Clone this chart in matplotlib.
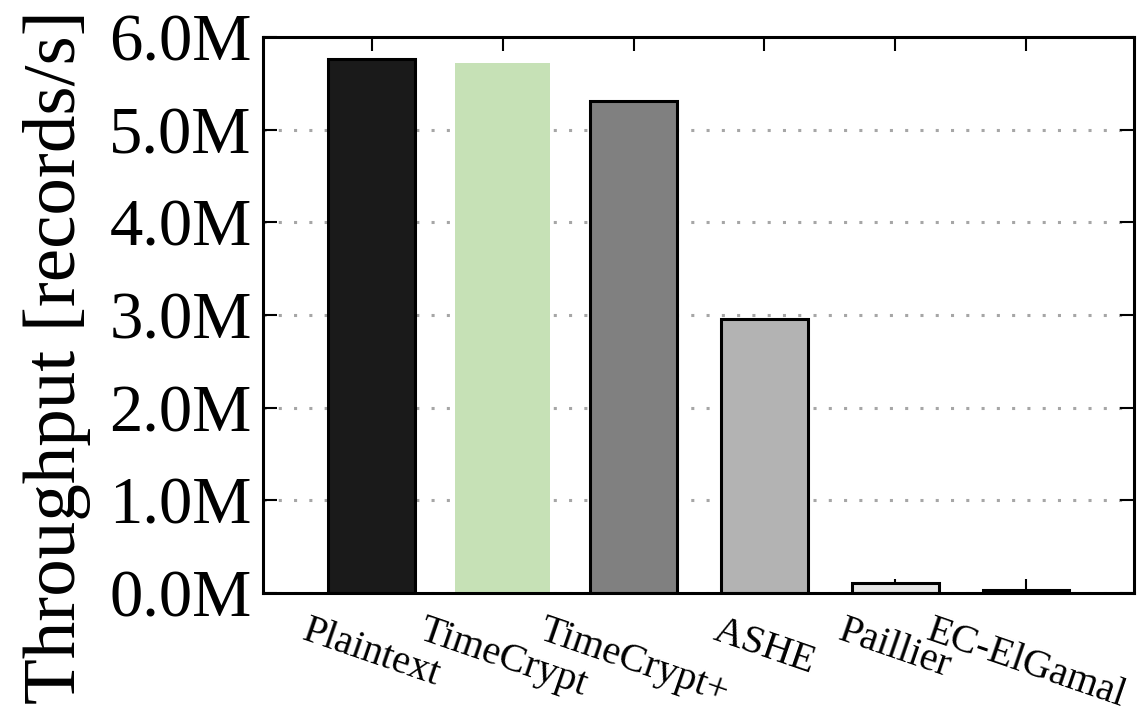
import matplotlib
matplotlib.use("Agg")
import matplotlib.pyplot as plt
from matplotlib.ticker import FuncFormatter

# Throughput per scheme, in millions of records per second
schemes = ["Plaintext", "TimeCrypt", "TimeCrypt+", "ASHE", "Paillier", "EC-ElGamal"]
throughput_m = [5.76, 5.72, 5.31, 2.96, 0.11, 0.03]
bar_colors = ["#1a1a1a", "#c6e1b6", "#808080", "#b3b3b3", "#e6e6e6", "#4d4d4d"]
y_ticks = [0, 1, 2, 3, 4, 5, 6]

plt.rcParams['font.family'] = ['Liberation Serif', 'DejaVu Serif']

fig = plt.figure(figsize=(11.41, 7.15), dpi=100)
ax = fig.add_axes([0.2305, 0.1706, 0.7634, 0.7777])

x = list(range(len(schemes)))
for i, (val, col) in enumerate(zip(throughput_m, bar_colors)):
    if i == 1:
        # TimeCrypt bar has no outline
        ax.bar(x[i], val, width=0.725, color=col, edgecolor='none', zorder=2)
    else:
        ax.bar(x[i], val, width=0.665, color=col, edgecolor='black',
               linewidth=2.2, zorder=2)

ax.set_xlim(-0.833, 5.826)
ax.set_ylim(0, 6)
ax.set_yticks(y_ticks)
ax.yaxis.set_major_formatter(FuncFormatter(lambda v, p: f"{v:.1f}M"))
ax.set_xticks(x)
ax.set_xticklabels(schemes, rotation=-19, ha='center', va='top',
                   fontsize=29)
ax.set_ylabel("Throughput [records/s]", fontsize=54)
ax.yaxis.set_label_coords(-0.198, 0.4236)

ax.set_axisbelow(True)
ax.grid(axis='y', color='#a6a6a6', linestyle=(0, (1, 4)), linewidth=2.2)
ax.tick_params(axis='both', direction='in', length=10, width=1.5,
               top=True, right=True)
ax.tick_params(axis='y', labelsize=48, pad=8)
ax.tick_params(axis='x', pad=14)
for s in ax.spines.values():
    s.set_linewidth(2.2)

fig.savefig("out.png", dpi=100)
